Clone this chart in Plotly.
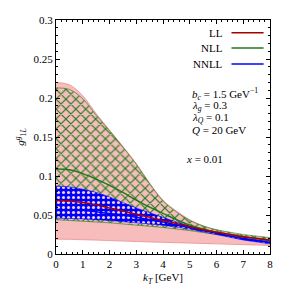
import plotly.graph_objects as go

kT = [0, 0.5, 1, 1.5, 2, 2.5, 3, 3.5, 4, 4.5, 5, 5.5, 6, 6.5, 7, 7.5, 8]

ll_upper = [0.220, 0.217, 0.203, 0.180, 0.159, 0.138, 0.116, 0.091, 0.069, 0.055, 0.044, 0.036, 0.031, 0.027, 0.024, 0.022, 0.020]
ll_lower = [0.019, 0.0188, 0.0183, 0.0178, 0.0172, 0.0166, 0.016, 0.0155, 0.015, 0.0145, 0.014, 0.0135, 0.013, 0.0125, 0.012, 0.0115, 0.011]
ll_central = [0.069, 0.068, 0.066, 0.063, 0.059, 0.055, 0.051, 0.047, 0.043, 0.039, 0.035, 0.031, 0.028, 0.025, 0.022, 0.020, 0.0175]

nll_upper = [0.213, 0.211, 0.199, 0.178, 0.158, 0.137, 0.115, 0.090, 0.068, 0.054, 0.043, 0.036, 0.031, 0.028, 0.025, 0.023, 0.021]
nll_lower = [0.044, 0.043, 0.042, 0.041, 0.040, 0.0385, 0.037, 0.0355, 0.034, 0.032, 0.030, 0.0275, 0.025, 0.0225, 0.020, 0.018, 0.016]
nll_central = [0.109, 0.108, 0.103, 0.096, 0.088, 0.079, 0.069, 0.060, 0.052, 0.044, 0.037, 0.032, 0.028, 0.025, 0.022, 0.020, 0.018]

nnll_upper = [0.087, 0.086, 0.083, 0.079, 0.073, 0.066, 0.059, 0.053, 0.047, 0.041, 0.036, 0.031, 0.027, 0.023, 0.020, 0.018, 0.016]
nnll_lower = [0.046, 0.0455, 0.045, 0.044, 0.043, 0.0415, 0.040, 0.0385, 0.037, 0.0345, 0.032, 0.0285, 0.025, 0.0215, 0.018, 0.0155, 0.013]
nnll_central = [0.057, 0.0565, 0.056, 0.054, 0.052, 0.050, 0.047, 0.044, 0.041, 0.037, 0.034, 0.030, 0.027, 0.023, 0.020, 0.017, 0.0145]

legend_labels = ["LL", "NLL", "NNLL"]
param_labels = ["<i>b<sub>c</sub></i> = 1.5 GeV<sup>−1</sup>", "<i>λ<sub>g</sub></i> = 0.3",
                "<i>λ<sub>Q</sub></i> = 0.1", "<i>Q</i> = 20 GeV", "<i>x</i> = 0.01"]

RED = "#a80000"
GREEN = "#1c7a1c"
BLUE = "#0000ff"
PINK = "#f7bcbc"
FONT = "Liberation Serif"

fig = go.Figure()

# LL band
fig.add_trace(go.Scatter(x=kT, y=ll_lower, mode="lines", line=dict(color="#e89090", width=0.8, shape="spline"), showlegend=False))
fig.add_trace(go.Scatter(x=kT, y=ll_upper, mode="lines", line=dict(color="#e89090", width=0.8, shape="spline"),
                         fill="tonexty", fillcolor=PINK, showlegend=False))
# NLL band
fig.add_trace(go.Scatter(x=kT, y=nll_lower, mode="lines", line=dict(color=GREEN, width=0.6, shape="spline"), showlegend=False))
fig.add_trace(go.Scatter(x=kT, y=nll_upper, mode="lines", line=dict(color=GREEN, width=0.6, shape="spline"),
                         fill="tonexty", fillcolor="rgba(0,0,0,0)",
                         fillpattern=dict(shape="x", fgcolor=GREEN, size=7, solidity=0.3, fillmode="replace"),
                         showlegend=False))
# NNLL band
fig.add_trace(go.Scatter(x=kT, y=nnll_lower, mode="lines", line=dict(color=BLUE, width=0.6, shape="spline"), showlegend=False))
fig.add_trace(go.Scatter(x=kT, y=nnll_upper, mode="lines", line=dict(color=BLUE, width=0.6, shape="spline"),
                         fill="tonexty", fillcolor=BLUE,
                         fillpattern=dict(shape=".", fgcolor="#f4d0e8", bgcolor=BLUE, size=5, solidity=0.3, fillmode="replace"),
                         showlegend=False))
# central lines
fig.add_trace(go.Scatter(x=kT, y=nll_central, mode="lines", line=dict(color=GREEN, width=1.5, shape="spline"), showlegend=False))
fig.add_trace(go.Scatter(x=kT, y=nnll_central, mode="lines", line=dict(color=BLUE, width=1.5, shape="spline"), showlegend=False))
fig.add_trace(go.Scatter(x=kT, y=ll_central, mode="lines", line=dict(color=RED, width=1.5, shape="spline"), showlegend=False))

# legend (text then line sample)
leg_colors = [RED, GREEN, BLUE]
leg_y = [0.945, 0.88, 0.812]
for lab, col, yy in zip(legend_labels, leg_colors, leg_y):
    fig.add_annotation(text=lab, xref="paper", yref="paper", x=0.79, y=yy, xanchor="right", yanchor="middle",
                       showarrow=False, font=dict(family=FONT, size=11, color="black"))
    fig.add_shape(type="line", xref="paper", yref="paper", x0=0.82, x1=0.97, y0=yy, y1=yy,
                  line=dict(color=col, width=1.5))

param_x = [0.627, 0.627, 0.627, 0.627, 0.598]
param_y = [0.683, 0.633, 0.58, 0.528, 0.405]
for t, xx, yy in zip(param_labels, param_x, param_y):
    fig.add_annotation(text=t, xref="paper", yref="paper", x=xx, y=yy, xanchor="left", yanchor="middle",
                       showarrow=False, font=dict(family=FONT, size=11, color="black"))

axis_common = dict(showline=True, linecolor="black", linewidth=1, mirror="allticks", ticks="inside",
                   tickcolor="black", showgrid=False, zeroline=False, ticklabeloverflow="allow",
                   tickfont=dict(family=FONT, size=11, color="black"))

fig.update_xaxes(range=[0, 8], dtick=1, tick0=0, ticklen=4,
                 minor=dict(ticks="inside", dtick=0.2, ticklen=2, tickcolor="black"),
                 title=dict(text="<i>k<sub>T</sub></i> [GeV]", font=dict(family=FONT, size=11, color="black"), standoff=4),
                 **axis_common)
fig.update_yaxes(range=[0, 0.3], dtick=0.05, tick0=0, ticklen=4,
                 minor=dict(ticks="inside", dtick=0.01, ticklen=2, tickcolor="black"),
                 title=dict(text="<i>g</i><sup><i>g</i></sup><sub>1<i>L</i></sub>", font=dict(family=FONT, size=11, color="black"), standoff=6),
                 **axis_common)

fig.update_layout(width=283, height=283, margin=dict(l=48, r=21, t=6, b=37),
                  paper_bgcolor="white", plot_bgcolor="white", showlegend=False,
                  font=dict(family=FONT, size=11, color="black"))

fig.write_html("out.html")
